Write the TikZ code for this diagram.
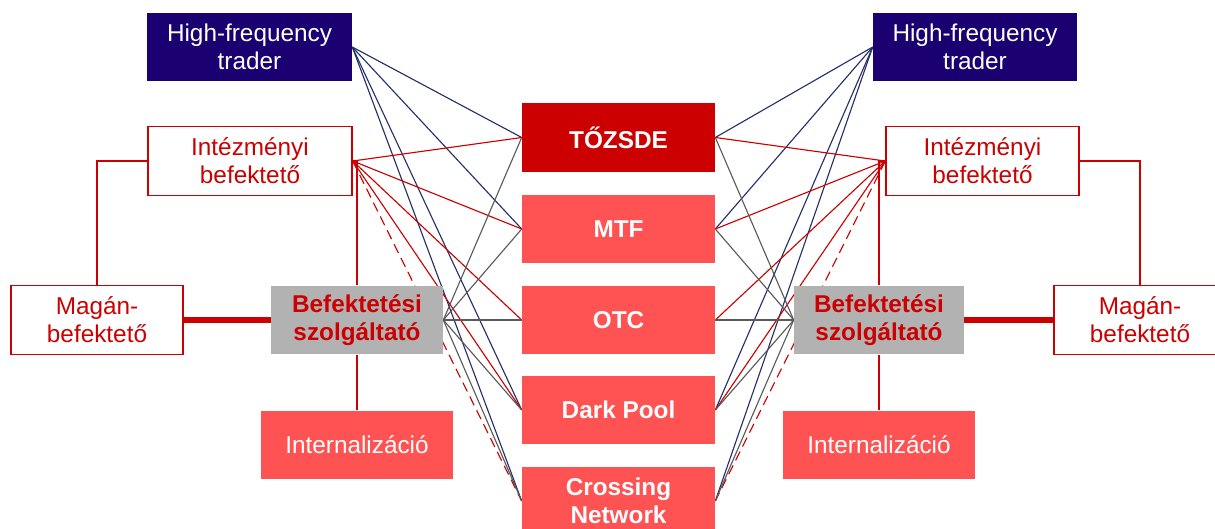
\documentclass[tikz,border=0pt]{standalone}
\usepackage{fontspec}
\setmainfont{Liberation Sans}
\usetikzlibrary{backgrounds}
\definecolor{hftblue}{RGB}{26,0,112}
\definecolor{mainred}{RGB}{204,0,0}
\definecolor{lightred}{RGB}{255,82,82}
\definecolor{bgray}{RGB}{178,178,178}
\definecolor{navyline}{RGB}{35,48,105}
\definecolor{grayline}{RGB}{90,90,90}

\begin{document}
\begin{tikzpicture}[x=0.025cm, y=-0.025cm,
  box/.style={minimum height=1.72cm, inner sep=0pt, align=center,
    font=\fontsize{17.3}{19.9}\selectfont},
  hftbox/.style={box, fill=hftblue, text=white},
  frame/.style={box, draw=mainred, line width=1pt, fill=white, text=mainred},
  venue/.style={box, fill=lightred, text=white,
    font=\fontsize{17.3}{19.9}\selectfont\bfseries},
  firm/.style={box, fill=bgray, text=mainred,
    font=\fontsize{17.3}{19.9}\selectfont\bfseries},
  intbox/.style={box, fill=lightred, text=white},
  hftline/.style={draw=navyline, line width=0.8pt},
  invline/.style={draw=mainred, line width=0.8pt},
  firmline/.style={draw=grayline, line width=0.8pt},
  linkline/.style={draw=mainred, line width=0.8pt},
  thickline/.style={draw=mainred, line width=4.5pt}]
\path[use as bounding box, clip] (0,0) rectangle (1215,528);

\node[venue, fill=mainred, minimum width=4.825cm] at (618.5,137.5) (tozsde) {TŐZSDE};
\node[venue, minimum width=4.825cm] at (618.5,229) (mtf) {MTF};
\node[venue, minimum width=4.825cm] at (618.5,320) (otc) {OTC};
\node[venue, minimum width=4.825cm] at (618.5,410) (dark) {Dark Pool};
\node[venue, minimum width=4.825cm] at (618.5,501) (cross) {Crossing\\Network};

\node[hftbox, minimum width=5.125cm] at (249.5,47) (hftL) {High-frequency\\trader};
\node[frame, minimum width=5.1cm] at (250,161) (intL) {Intézményi\\befektető};
\node[frame, minimum width=4.3cm] at (97,320) (maganL) {Magán-\\befektető};
\node[firm, minimum width=4.3cm] at (357,320) (befL) {Befektetési\\szolgáltató};
\node[intbox, minimum width=4.8cm] at (357,445) (internL) {Internalizáció};

\node[hftbox, minimum width=5.1cm] at (975,47) (hftR) {High-frequency\\trader};
\node[frame, minimum width=4.825cm] at (982.5,161) (intR) {Intézményi\\befektető};
\node[frame, minimum width=4.3cm] at (1140,320) (maganR) {Magán-\\befektető};
\node[firm, minimum width=4.25cm] at (879,320) (befR) {Befektetési\\szolgáltató};
\node[intbox, minimum width=4.8cm] at (879,445) (internR) {Internalizáció};

\begin{pgfonlayer}{background}
\draw (hftL.east) edge[hftline] (tozsde.west) edge[hftline] (mtf.west)
  edge[hftline] (dark.west) edge[hftline] (cross.west);
\draw (intL.east) edge[invline] (tozsde.west) edge[invline] (mtf.west)
  edge[invline] (otc.west) edge[invline] (dark.west)
  edge[invline, dash pattern=on 7pt off 4pt] (cross.west);
\draw (befL.east) edge[firmline] (tozsde.west) edge[firmline] (mtf.west)
  edge[firmline] (otc.west) edge[firmline] (dark.west) edge[firmline] (cross.west);
\draw (hftR.west) edge[hftline] (tozsde.east) edge[hftline] (mtf.east)
  edge[hftline] (dark.east) edge[hftline] (cross.east);
\draw (intR.west) edge[invline] (tozsde.east) edge[invline] (mtf.east)
  edge[invline] (otc.east) edge[invline] (dark.east)
  edge[invline, dash pattern=on 7pt off 4pt] (cross.east);
\draw (befR.west) edge[firmline] (tozsde.east) edge[firmline] (mtf.east)
  edge[firmline] (otc.east) edge[firmline] (dark.east) edge[firmline] (cross.east);
\draw[linkline] (intL.east) -| (befL.north);
\draw[linkline] (befL.south) -- (internL.north);
\draw[linkline] (intL.west) -| (maganL.north);
\draw[linkline] (intR.west) -| (befR.north);
\draw[linkline] (befR.south) -- (internR.north);
\draw[linkline] (intR.east) -| (maganR.north);
\end{pgfonlayer}
\draw[thickline] (maganL.east) -- (befL.west);
\draw[thickline] (befR.east) -- (maganR.west);
\end{tikzpicture}
\end{document}
